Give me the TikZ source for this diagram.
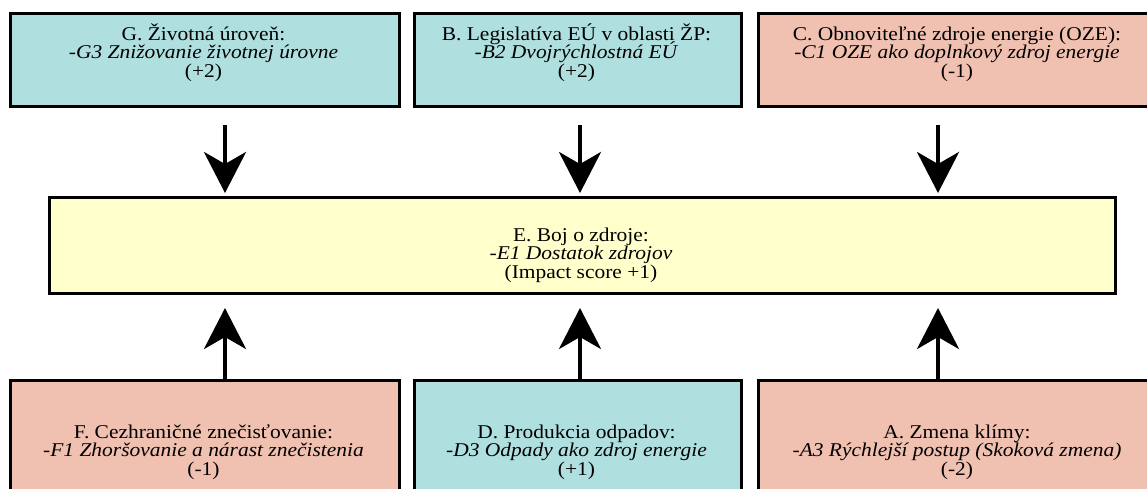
\documentclass[tikz,border=0pt]{standalone}
\usepackage{fontspec}
\setmainfont{Liberation Serif}[FakeStretch=1.1]
\usetikzlibrary{arrows.meta}
\definecolor{tealbox}{RGB}{176,223,224}
\definecolor{salmonbox}{RGB}{240,192,177}
\definecolor{yellowbox}{RGB}{255,255,204}
\newcommand\trilines[3]{\vtop{\baselineskip=18.5pt\lineskiplimit=-100pt\lineskip=0pt\halign{\hfil##\hfil\cr #1\cr\textit{#2}\cr #3\cr}}}
\begin{document}
\begin{tikzpicture}[x=1pt,y=-1pt,
  box/.style={draw=black, line width=3pt, inner sep=0pt, anchor=north west},
  lbl/.style={inner sep=0pt, anchor=base, font=\fontsize{19.5pt}{18.5pt}\selectfont},
  arr/.style={line width=4pt, -{Stealth[length=41pt,width=42pt,inset=12pt]}}]
\clip (0,0) rectangle (1147,488);
\fill[white] (0,0) rectangle (1147,488);
% top row
\node[box, fill=tealbox, minimum width=389pt, minimum height=93pt] (G) at (9,12) {};
\node[box, fill=tealbox, minimum width=327pt, minimum height=93pt] (B) at (413,12) {};
\node[box, fill=salmonbox, minimum width=400pt, minimum height=93pt] (C) at (757,12) {};
% middle
\node[box, fill=yellowbox, minimum width=1066pt, minimum height=96pt] (E) at (48,196) {};
% bottom row
\node[box, fill=salmonbox, minimum width=389pt, minimum height=130pt] (F) at (9,379) {};
\node[box, fill=tealbox, minimum width=327pt, minimum height=130pt] (D) at (413,379) {};
\node[box, fill=salmonbox, minimum width=400pt, minimum height=130pt] (A) at (757,379) {};
% texts
\node[lbl] (Gt) at (203.5,40) {\trilines{G. Životná úroveň:}{-G3 Znižovanie životnej úrovne}{(+2)}};
\node[lbl] (Bt) at (576.5,40) {\trilines{B. Legislatíva EÚ v oblasti ŽP:}{-B2 Dvojrýchlostná EÚ}{(+2)}};
\node[lbl] (Ct) at (957,40) {\trilines{C. Obnoviteľné zdroje energie (OZE):}{-C1 OZE ako doplnkový zdroj energie}{(-1)}};
\node[lbl] (Et) at (581,241) {\trilines{E. Boj o zdroje:}{-E1 Dostatok zdrojov}{(Impact score +1)}};
\node[lbl] (Ft) at (203.5,438) {\trilines{F. Cezhraničné znečisťovanie:}{-F1 Zhoršovanie a nárast znečistenia}{(-1)}};
\node[lbl] (Dt) at (576.5,438) {\trilines{D. Produkcia odpadov:}{-D3 Odpady ako zdroj energie}{(+1)}};
\node[lbl] (At) at (957,438) {\trilines{A. Zmena klímy:}{-A3 Rýchlejší postup (Skoková zmena)}{(-2)}};
% arrow columns
\coordinate (x1) at (225,0);
\coordinate (x2) at (580,0);
\coordinate (x3) at (938,0);
\draw[arr, shorten <=17pt, shorten >=3pt] (G.south -| x1) -- (E.north -| x1);
\draw[arr, shorten <=17pt, shorten >=3pt] (B.south -| x2) -- (E.north -| x2);
\draw[arr, shorten <=17pt, shorten >=3pt] (C.south -| x3) -- (E.north -| x3);
\draw[arr, shorten >=13pt] (F.north -| x1) -- (E.south -| x1);
\draw[arr, shorten >=13pt] (D.north -| x2) -- (E.south -| x2);
\draw[arr, shorten >=13pt] (A.north -| x3) -- (E.south -| x3);
\end{tikzpicture}
\end{document}
